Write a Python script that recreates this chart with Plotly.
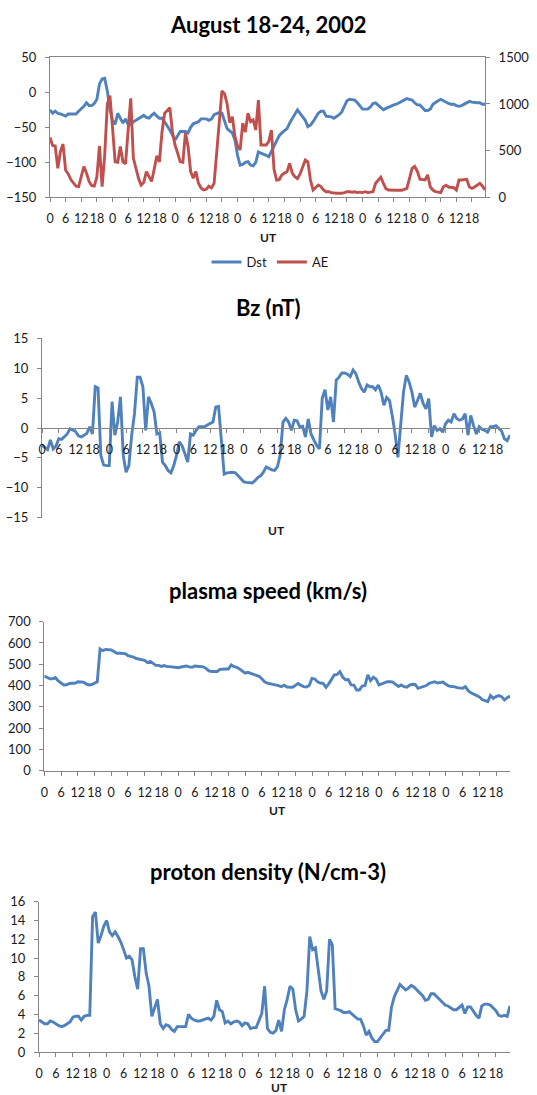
import plotly.graph_objects as go

W, H = 537, 1095

# ---------------- data (hourly, Aug 18-24 2002) ----------------
day_tick_labels = ["0", "6", "12", "18"]
n_days = 7
tick_text = day_tick_labels * n_days

dst = [
    -25, -30, -27, -30, -31, -33, -34, -31, -31, -31, -31, -27, -24, -20, -15, -19, -19, -16, -10, 12, 19, 20, 2, -25,
    -40, -46, -30, -38, -44, -38, -46, -46, -42, -40, -38, -36, -33, -36, -37, -33, -30, -34, -37, -37, -42, -48, -54, -60,
    -68, -62, -56, -56, -56, -58, -50, -45, -43, -42, -38, -38, -38, -40, -38, -32, -30, -29, -30, -40, -52, -55, -58, -68,
    -90, -104, -103, -100, -99, -104, -105, -100, -85, -87, -88, -90, -92, -85, -78, -70, -62, -58, -55, -52, -44, -38, -32, -25,
    -30, -35, -40, -49, -47, -42, -36, -30, -27, -27, -34, -34, -35, -37, -35, -32, -28, -20, -12, -10, -10, -11, -15, -20,
    -24, -24, -24, -21, -16, -15, -18, -22, -25, -23, -21, -19, -18, -17, -15, -14, -12, -9, -10, -11, -15, -18, -18, -22,
    -26, -26, -24, -17, -14, -12, -10, -12, -15, -16, -17, -17, -19, -20, -19, -17, -15, -13, -14, -15, -15, -15, -17, -17,
]

ae = [
    640, 555, 550, 310, 490, 570, 290, 250, 190, 160, 120, 115, 220, 330, 260, 170, 125, 120, 220, 550, 115, 450, 1000, 1090,
    750, 380, 375, 545, 380, 360, 720, 1060, 420, 300, 200, 130, 160, 275, 220, 170, 300, 443, 380, 700, 900, 930, 960, 700,
    560, 475, 380, 375, 690, 545, 275, 205, 275, 150, 100, 78, 86, 120, 100, 150, 500, 800, 1140, 1110, 1000, 800, 863, 650,
    550, 507, 795, 700, 900, 810, 830, 721, 1042, 560, 560, 560, 600, 721, 300, 185, 190, 239, 260, 274, 364, 260, 220, 200,
    250, 330, 400, 380, 185, 78, 100, 131, 115, 80, 60, 60, 50, 43, 43, 45, 43, 50, 60, 60, 55, 60, 50, 55,
    50, 60, 50, 55, 60, 150, 185, 215, 150, 90, 78, 75, 71, 75, 75, 75, 85, 96, 200, 310, 330, 280, 193, 190,
    185, 240, 110, 78, 60, 55, 50, 110, 130, 110, 103, 103, 78, 185, 185, 185, 193, 110, 96, 110, 130, 150, 121, 78,
]

bz = [
    -2.9, -3.2, -3.6, -2.0, -3.5, -3.0, -1.8, -1.9, -1.5, -1.0, -0.1, -0.4, -0.6, -1.3, -1.5, -1.2, -0.9, 0.2, -1.0, 6.9, 6.7, -4.6, -6.2, -6.3,
    -6.3, 4.4, -1.2, 1.0, 5.2, -4.6, -7.4, -6.3, -1.2, 2.4, 8.5, 8.5, 6.9, -0.4, 5.2, 4.1, 2.7, -1.0, -0.8, -5.7, -6.3, -7.1, -7.5, -6.3,
    -4.6, -2.3, -3.0, -4.3, -5.7, -1.0, -1.2, -0.4, 0.2, 0.2, 0.2, 0.5, 0.7, 1.0, 3.5, 3.6, -2.0, -7.7, -7.5, -7.4, -7.4, -7.5, -8.0, -8.4,
    -9.0, -9.1, -9.2, -9.2, -8.8, -8.3, -8.0, -7.4, -6.5, -6.8, -7.0, -7.1, -6.5, -4.5, 1.0, 1.6, 1.0, -0.4, 1.3, 1.2, 0.2, 0.3, -1.5, 1.5,
    -1.0, -2.0, -2.9, -3.5, 5.0, 6.4, 3.0, 5.2, 1.0, 8.0, 8.5, 9.2, 9.2, 9.0, 8.6, 9.7, 9.1, 7.7, 6.6, 6.0, 7.2, 6.9, 6.9, 6.4,
    7.2, 6.0, 3.8, 5.1, 4.6, 2.0, -1.0, -4.9, 0.7, 6.0, 8.8, 7.7, 6.0, 3.5, 4.6, 5.8, 4.1, 3.2, 4.9, -1.5, 0.4, -0.4, -0.1, -0.7,
    0.7, 1.3, 1.0, 2.4, 1.6, 1.3, 1.5, 2.4, -1.2, 2.1, 0.4, -1.0, 0.2, -0.2, -0.4, -0.7, 0.2, 0.2, 0.4, 0.0, -0.5, -1.8, -2.1, -1.2,
]

speed = [
    445, 438, 432, 432, 438, 422, 412, 403, 404, 410, 411, 411, 418, 418, 416, 408, 403, 405, 411, 418, 572, 564, 570, 569,
    567, 560, 552, 552, 552, 550, 541, 538, 534, 527, 525, 522, 518, 508, 513, 504, 495, 495, 490, 494, 489, 489, 488, 486,
    484, 487, 489, 492, 488, 486, 492, 490, 490, 488, 481, 469, 466, 466, 466, 476, 478, 478, 478, 497, 489, 486, 478, 470,
    458, 462, 458, 452, 448, 443, 432, 418, 411, 409, 406, 402, 400, 395, 402, 393, 392, 392, 400, 410, 402, 395, 393, 400,
    434, 431, 418, 412, 410, 392, 408, 432, 450, 452, 465, 440, 427, 428, 403, 402, 379, 379, 398, 400, 450, 423, 439, 430,
    403, 408, 414, 418, 418, 416, 406, 396, 403, 395, 392, 402, 406, 405, 387, 392, 395, 400, 410, 414, 418, 412, 414, 416,
    406, 398, 395, 395, 390, 387, 387, 395, 376, 366, 359, 353, 347, 334, 328, 324, 353, 340, 348, 353, 348, 332, 343, 351,
]

density = [
    3.4, 3.2, 3.0, 3.0, 3.3, 3.2, 3.0, 2.8, 2.7, 2.8, 3.0, 3.2, 3.7, 3.8, 3.8, 3.4, 3.8, 3.9, 3.9, 14.4, 14.9, 11.6, 12.4, 13.4,
    14.0, 12.8, 12.4, 12.8, 12.3, 11.7, 10.9, 10.0, 10.2, 9.8, 8.0, 6.7, 11.0, 11.0, 8.4, 7.0, 3.8, 4.6, 5.6, 3.0, 2.5, 2.9, 2.8, 2.4,
    2.2, 2.7, 2.7, 2.7, 2.7, 4.0, 3.6, 3.4, 3.3, 3.3, 3.4, 3.5, 3.6, 3.4, 3.8, 5.5, 4.5, 4.3, 3.1, 3.3, 3.0, 3.2, 3.3, 3.2,
    2.8, 3.1, 3.0, 2.5, 2.6, 2.6, 3.4, 4.1, 7.0, 2.5, 2.1, 2.0, 2.3, 3.4, 2.2, 4.5, 5.6, 7.0, 6.7, 4.5, 3.3, 3.5, 3.8, 6.5,
    12.3, 10.9, 11.1, 9.0, 6.5, 5.6, 6.5, 12.0, 11.4, 4.6, 4.5, 4.4, 4.2, 4.2, 4.3, 4.0, 3.7, 3.5, 3.5, 2.8, 1.8, 2.2, 1.5, 1.1,
    1.1, 1.5, 2.0, 2.3, 2.3, 4.8, 5.9, 6.5, 7.2, 6.9, 6.6, 6.8, 7.1, 6.9, 6.6, 6.4, 6.0, 5.5, 5.6, 6.2, 6.2, 5.9, 5.6, 5.2,
    5.0, 4.9, 4.7, 4.5, 4.5, 4.8, 5.0, 4.1, 4.8, 4.8, 4.3, 3.9, 3.6, 4.9, 5.1, 5.1, 5.0, 4.7, 4.4, 3.9, 3.8, 3.9, 3.8, 4.9,
]

hours = list(range(len(dst)))               # category index (hourly)
tick_vals = hours[::6]                      # a label every 6 hours

BLUE = "#4F81BD"
RED = "#C0504D"
AXIS = "#868686"
TXT = "#1a1a1a"
FONT = "Lato"
LW = 2.9

def px_x(p):
    return p / W

def px_y(p):
    return 1 - p / H

fig = go.Figure()

fig.add_trace(go.Scatter(x=hours, y=dst, name="Dst", mode="lines",
                         line=dict(color=BLUE, width=LW), xaxis="x", yaxis="y"))
fig.add_trace(go.Scatter(x=hours, y=ae, name="AE", mode="lines",
                         line=dict(color=RED, width=LW), xaxis="x", yaxis="y2"))
fig.add_trace(go.Scatter(x=hours, y=bz, name="Bz", mode="lines", showlegend=False,
                         line=dict(color=BLUE, width=LW), xaxis="x2", yaxis="y3"))
fig.add_trace(go.Scatter(x=hours, y=speed, name="speed", mode="lines", showlegend=False,
                         line=dict(color=BLUE, width=LW), xaxis="x3", yaxis="y4"))
fig.add_trace(go.Scatter(x=hours, y=density, name="density", mode="lines", showlegend=False,
                         line=dict(color=BLUE, width=LW), xaxis="x4", yaxis="y5"))

ytick_font = dict(family=FONT, size=13, color=TXT)
xtick_font = dict(family=FONT, size=12.5, color=TXT)

def xax(domain, **kw):
    d = dict(domain=domain, range=[0, len(hours) - 1], tickmode="array",
             tickvals=tick_vals, ticktext=tick_text, tickangle=0, showgrid=False, zeroline=False,
             showline=True, linecolor=AXIS, linewidth=1, ticks="outside", ticklen=4,
             tickcolor=AXIS, tickfont=xtick_font, ticklabelstandoff=6, fixedrange=True,
             automargin=False)
    d.update(kw)
    return d

def yax(domain, rng, vals, **kw):
    d = dict(domain=domain, range=rng, tickmode="array", tickvals=vals,
             showgrid=False, zeroline=False, showline=True, linecolor=AXIS, linewidth=1,
             ticks="outside", ticklen=4, tickcolor=AXIS, tickfont=ytick_font,
             ticklabelstandoff=6, fixedrange=True, automargin=False)
    d.update(kw)
    return d

# panel geometry (pixels)
p1 = dict(l=50, r=485, t=57.3, b=197.3)
p2 = dict(l=42, r=510, t=338.3, b=517.7)
p3 = dict(l=44.3, r=510, t=621.7, b=770.7)
p4 = dict(l=39, r=510, t=901.7, b=1052)

def dom_x(p):
    return [px_x(p["l"]), px_x(p["r"])]

def dom_y(p):
    return [px_y(p["b"]), px_y(p["t"])]

bz_dom = dom_y(p2)

fig.update_layout(
    width=W, height=H,
    margin=dict(l=0, r=0, t=0, b=0),
    paper_bgcolor="white", plot_bgcolor="rgba(0,0,0,0)",
    font=dict(family=FONT, color=TXT),
    showlegend=True,
    legend=dict(orientation="h", x=px_x(270), y=px_y(262), xanchor="center", yanchor="middle",
                font=dict(family=FONT, size=13, color=TXT), itemwidth=30,
                bgcolor="rgba(0,0,0,0)", tracegroupgap=0),
    xaxis=xax(dom_x(p1), anchor="y", mirror=True),
    yaxis=yax(dom_y(p1), [-150, 50], [-150, -100, -50, 0, 50], anchor="x"),
    yaxis2=yax(dom_y(p1), [0, 1500], [0, 500, 1000, 1500], anchor="x",
               overlaying="y", side="right"),
    xaxis2=xax(dom_x(p2), anchor="free", position=(bz_dom[0] + bz_dom[1]) / 2),
    yaxis3=yax(bz_dom, [-15, 15], [-15, -10, -5, 0, 5, 10, 15], anchor="x2"),
    xaxis3=xax(dom_x(p3), anchor="y4"),
    yaxis4=yax(dom_y(p3), [0, 700], [0, 100, 200, 300, 400, 500, 600, 700], anchor="x3"),
    xaxis4=xax(dom_x(p4), anchor="y5"),
    yaxis5=yax(dom_y(p4), [0, 16], [0, 2, 4, 6, 8, 10, 12, 14, 16], anchor="x4"),
)

titles = [
    ("August 18-24, 2002", 268, 24),
    ("Bz (nT)", 268, 307),
    ("plasma speed (km/s)", 268, 590),
    ("proton density (N/cm-3)", 268, 871),
]
for text, cx, cy in titles:
    fig.add_annotation(text="<b>" + text + "</b>", x=px_x(cx), y=px_y(cy), xref="paper", yref="paper",
                       xanchor="center", yanchor="middle", showarrow=False,
                       font=dict(family=FONT, size=22, color="#000000"))

ut_labels = [(268, 237), (276, 530), (277, 810), (279, 1087)]
for cx, cy in ut_labels:
    fig.add_annotation(text="<b>UT</b>", x=px_x(cx), y=px_y(cy), xref="paper", yref="paper",
                       xanchor="center", yanchor="middle", showarrow=False,
                       font=dict(family=FONT, size=12, color=TXT))

fig.write_html("out.html",
               config={"displayModeBar": False},
               post_script="document.body.style.margin='0';document.body.style.overflow='hidden';")
